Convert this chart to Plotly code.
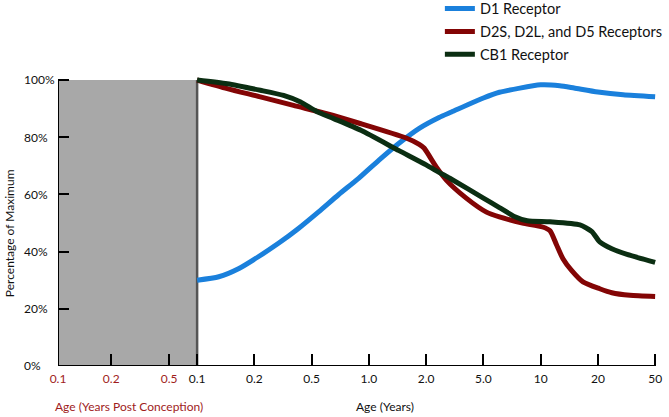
import numpy as np
import plotly.graph_objects as go

# ---- axis tick tables ----
pre_tick_labels = ["0.1", "0.2", "0.5"]
pre_tick_pos = [0.0, 0.93, 1.94]
birth_pos = 2.43
post_tick_ages = [0.1, 0.2, 0.5, 1.0, 2.0, 5.0, 10.0, 20.0, 50.0]
post_tick_labels = ["0.1", "0.2", "0.5", "1.0", "2.0", "5.0", "10", "20", "50"]
post_tick_pos = [birth_pos + i for i in range(len(post_tick_ages))]

# ---- data (age in years, percent of maximum) ----
d1_age = [0.1, 0.13, 0.166, 0.213, 0.294, 0.405, 0.544, 0.69, 0.883, 1.13, 1.44, 1.84,
          2.46, 3.0, 5.0, 6.07, 10, 12.6, 15, 20, 30, 50]
d1_val = [30, 31.2, 34.1, 38.2, 42.9, 48.1, 53.9, 59.8, 65.6, 72.0, 77.9, 83.1,
          86.9, 88.8, 93.7, 95.7, 98.3, 98, 97.2, 95.8, 94.8, 94.1]

d2_age = [0.1, 0.144, 0.22, 0.374, 0.6, 0.908, 1.57, 1.84, 1.95, 2.35, 2.76, 3.8, 5.19, 6.07,
          8.03, 10.25, 11.2, 12.1, 13.1, 14.5, 16.7, 20.6, 25, 33.4, 50]
d2_val = [100, 97, 94.1, 91.1, 88.2, 84.7, 79.7, 77.5, 76.2, 69.6, 65, 58.7, 53.8, 52.1,
          50, 48.6, 47.3, 42.5, 37.5, 33.5, 29.4, 27.0, 25.6, 24.7, 24.3]

cb1_age = [0.1, 0.144, 0.22, 0.319, 0.419, 0.531, 0.653, 0.908, 1.44, 2.0, 2.46, 3.0, 5.0,
           6.07, 7.27, 8.5, 11.2, 16.1, 18.6, 20.6, 25, 31.9, 50]
cb1_val = [100, 98.7, 96.4, 94.6, 92.3, 89, 86.5, 82.4, 75.3, 70.3, 67.7, 65.3, 58.7,
           55.4, 52.3, 50.8, 50.4, 49.3, 47, 43.4, 41, 39, 36.2]

y_ticks = [0, 20, 40, 60, 80, 100]

series_names = ["D1 Receptor", "D2S, D2L, and D5 Receptors", "CB1 Receptor"]
series_colors = ["#1a80dc", "#830505", "#0b2e12"]
pre_color = "#a01c1c"
FONT = "Lato"


def age_to_pos(ages):
    return np.interp(np.log10(ages), np.log10(post_tick_ages), post_tick_pos)


fig = go.Figure()
for name, color, ages, vals in zip(series_names, series_colors,
                                   [d1_age, d2_age, cb1_age], [d1_val, d2_val, cb1_val]):
    fig.add_trace(go.Scatter(
        x=age_to_pos(np.array(ages)), y=vals, mode="lines", name=name,
        legendgroup=name,
        line=dict(color=color, width=5, shape="spline", smoothing=0.6),
        hoverinfo="skip",
    ))

tickvals = pre_tick_pos + post_tick_pos
ticktext = [f"<span style='color:{pre_color}'>{t}</span>" for t in pre_tick_labels] + post_tick_labels

x_end = post_tick_pos[-1]

# y tick labels are left-aligned in the reference -> annotations
ytick_annots = [dict(text=f"{v}%", xref="paper", yref="y", x=-0.059, y=v, xanchor="left",
                     yanchor="middle", showarrow=False,
                     font=dict(family=FONT, size=12, color="#111")) for v in y_ticks]

fig.update_layout(
    width=669, height=417,
    margin=dict(l=58, r=0, t=0, b=51, autoexpand=False),
    paper_bgcolor="white", plot_bgcolor="white",
    font=dict(family=FONT, size=12, color="#111"),
    showlegend=True,
    legend=dict(x=0.625, y=1.02, xanchor="left", yanchor="top",
                font=dict(family=FONT, size=14.5, color="#111"),
                bgcolor="rgba(0,0,0,0)", traceorder="grouped", tracegroupgap=1),
    xaxis=dict(domain=[0, 0.982], range=[0, x_end + 0.05], tickmode="array",
               tickvals=tickvals, ticktext=ticktext, tickangle=0, ticklabelstandoff=4,
               ticks="inside", ticklen=12, tickwidth=1.5, tickcolor="black",
               showgrid=False, zeroline=False, showline=False, automargin=False,
               tickfont=dict(family=FONT, size=12, color="#111")),
    yaxis=dict(domain=[0, 0.7932], range=[0, 101.5], tickmode="array", tickvals=y_ticks,
               showticklabels=False,
               ticks="inside", ticklen=11, tickwidth=1.5, tickcolor="black",
               showgrid=False, zeroline=False, showline=False, automargin=False),
    shapes=[
        dict(type="rect", xref="x", yref="y", x0=0, x1=birth_pos, y0=0, y1=100,
             fillcolor="#a8a8a8", line=dict(width=0), layer="below"),
        dict(type="line", xref="x", yref="y", x0=birth_pos, x1=birth_pos, y0=0, y1=100,
             line=dict(color="#555555", width=2.5), layer="below"),
        dict(type="line", xref="x", yref="y", x0=0, x1=0, y0=0, y1=100,
             line=dict(color="black", width=2), layer="below"),
        dict(type="line", xref="x", yref="y", x0=0, x1=x_end, y0=0, y1=0,
             line=dict(color="black", width=2), layer="below"),
    ],
    annotations=[
        dict(text="Age (Years Post Conception)", xref="x", yref="paper", x=1.24, y=-0.112,
             xanchor="center", yanchor="middle",
             showarrow=False, font=dict(family=FONT, size=12, color=pre_color)),
        dict(text="Age (Years)", xref="x", yref="paper", x=5.71, y=-0.112,
             xanchor="center", yanchor="middle",
             showarrow=False, font=dict(family=FONT, size=12, color="#111")),
        dict(text="Percentage of Maximum", xref="paper", yref="paper", x=-0.0802, y=0.363,
             xanchor="center", yanchor="middle",
             textangle=-90, showarrow=False, font=dict(family=FONT, size=12, color="#111")),
    ] + ytick_annots,
)

fig.write_html("out.html", config={"displayModeBar": False},
               post_script="document.body.style.margin='0px';")
